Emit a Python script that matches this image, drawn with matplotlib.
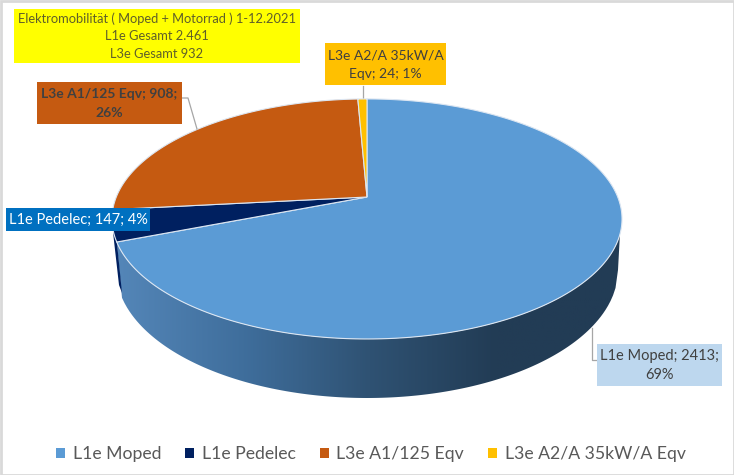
import numpy as np
import matplotlib
matplotlib.use('Agg')
import matplotlib.pyplot as plt
from matplotlib.patches import Patch, Rectangle, Polygon
from matplotlib.colors import LinearSegmentedColormap

categories = ['L1e Moped', 'L1e Pedelec', 'L3e A1/125 Eqv', 'L3e A2/A 35kW/A Eqv']
values = [2413, 147, 908, 24]
percents = ['69%', '4%', '26%', '1%']
colors = ['#5b9bd5', '#002060', '#c55a11', '#ffc000']
title_lines = ['Elektromobilität ( Moped + Motorrad ) 1-12.2021', 'L1e Gesamt 2.461', 'L3e Gesamt 932']

plt.rcParams['font.family'] = ['Lato', 'DejaVu Sans']

fig = plt.figure(figsize=(7.34, 4.75), dpi=100)
ax = fig.add_axes([0, 0, 1, 1])
ax.set_xlim(0, 734)
ax.set_ylim(475, 0)
ax.axis('off')

# pie seen in perspective, so the middle is not the middle of the ellipse
cx, cy = 367, 197
k = 0.183
rx = 250.7
ry = 116


def rim(theta):
    t = np.radians(theta)
    w = 1 + k * np.sin(t)
    return cx + rx * np.cos(t) / w, cy - ry * np.sin(t) / w


def lower(x):
    # lower rim, as an ellipse of its own
    return 270 + 128 * np.sqrt(np.clip(1 - ((x - 367) / 251) ** 2, 0, 1))


# angles, clockwise from the top
fractions = np.array(values) / sum(values)
edges = 90 - 360 * np.concatenate([[0], np.cumsum(fractions)])

# side wall of the moped slice
top = np.linspace(edges[0] - 70, edges[1], 300)
tx, ty = rim(top)
keep = ty > 233
tx, ty = tx[keep], ty[keep]
lx = np.linspace(122, 618, 200)
wall = np.vstack([np.column_stack([tx, ty]), np.column_stack([lx, lower(lx)])])
wall_patch = Polygon(wall, closed=True, fc='none', ec='none')
ax.add_patch(wall_patch)
side_cmap = LinearSegmentedColormap.from_list('side', ['#5486b8', '#3f6e9c', '#2f5273', '#223c55', '#223c55'])
im = ax.imshow(np.linspace(0, 1, 256)[None, :], cmap=side_cmap, aspect='auto',
               extent=[117, 622, 400, 200], zorder=1)
im.set_clip_path(wall_patch)
ax.set_xlim(0, 734)
ax.set_ylim(475, 0)

# small side wall of the pedelec slice
ax.add_patch(Polygon([(113, 232), (117, 243), (122, 293), (119, 285)], closed=True, fc=colors[1], ec='none', zorder=1))

# top of the pie
for i in range(4):
    a = np.linspace(edges[i], edges[i + 1], 300)
    x, y = rim(a)
    ax.fill(np.r_[cx, x], np.r_[cy, y], fc=colors[i], ec='#dce6f2', lw=0.8, zorder=2)

# leader lines
line_col = '#a6a6a6'
ax.plot([363, 363], [86, 99], color=line_col, lw=0.9, zorder=1.5)
ax.plot([182, 188, 197], [98, 98, 129], color=line_col, lw=0.9, zorder=3)
ax.plot([592, 592, 597], [328, 360, 360], color=line_col, lw=0.9, zorder=3)


def box(x0, y0, x1, y1, fc, lines, color, size, weight='normal', step=19):
    ax.add_patch(Rectangle((x0, y0), x1 - x0, y1 - y0, fc=fc, ec='none', zorder=4))
    mid = (x0 + x1) / 2
    first = (y0 + y1) / 2 + 0.5 - step * (len(lines) - 1) / 2
    for n, line in enumerate(lines):
        ax.text(mid, first + step * n, line, ha='center', va='center',
                color=color, fontsize=size, fontweight=weight, zorder=5)


box(14, 9, 300, 63, '#ffff00', title_lines, '#5f5f2a', 9.3, step=17.5)
box(325, 43, 446, 85, '#ffc000', [categories[3].rsplit(' ', 1)[0], f'Eqv; {values[3]}; {percents[3]}'], '#404040', 10)
box(37, 82, 182, 124, '#c55a11', [f'{categories[2]}; {values[2]};', percents[2]], '#404040', 10, 'bold')
box(6, 208, 150, 231, '#0070c0', [f'{categories[1]}; {values[1]}; {percents[1]}'], 'white', 10.5)
box(597, 344, 722, 386, '#bdd7ee', [f'{categories[0]}; {values[0]};', percents[0]], '#404040', 10.5)

# legend
handles = [Patch(fc=c, ec='none') for c in colors]
ax.legend(handles, categories, loc='center', bbox_to_anchor=(371 / 734, 1 - 454 / 475), ncol=4,
          frameon=False, fontsize=12.7, labelcolor='#595959', handlelength=0.5, handleheight=0.5,
          handletextpad=0.45, columnspacing=1.35)

# grey frame of the screenshot
ax.add_patch(Rectangle((0.5, 0.5), 733, 474, fc='none', ec='#d9d9d9', lw=2, zorder=6))

fig.savefig('out.png', dpi=100)
